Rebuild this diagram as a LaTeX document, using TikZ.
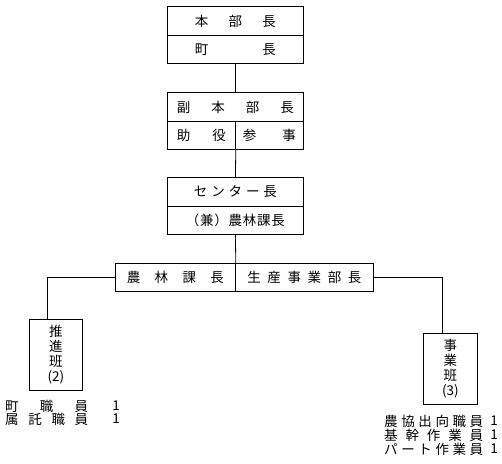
\documentclass[tikz,border=0pt]{standalone}
\usepackage{fontspec}
\setmainfont{Noto Sans CJK JP}
\newcommand{\spread}[2]{\makebox[#1pt][s]{#2}}

\begin{document}
\begin{tikzpicture}[x=1pt,y=-1pt,
	box/.style={draw,line width=0.8pt,inner sep=0pt,anchor=north west,align=center,font=\fontsize{13.5}{15}\selectfont},
	txt/.style={inner sep=0pt,font=\fontsize{13.5}{14}\selectfont},
	link/.style={line width=0.8pt}]
	\useasboundingbox (0,0) rectangle (502,463);

	\node[box,minimum width=136pt,minimum height=29pt] (honbuA) at (167,6) {\spread{81}{本\hfill 部\hfill 長}};
	\node[box,minimum width=136pt,minimum height=28pt] (honbuB) at (167,35) {\spread{81}{町\hfill 長}};

	\node[box,minimum width=136pt,minimum height=29pt] (fukuA) at (167,92) {\spread{117}{副\hfill 本\hfill 部\hfill 長}};
	\node[box,minimum width=68pt,minimum height=28pt] (fukuL) at (167,121) {\spread{49}{助\hfill 役}};
	\node[box,minimum width=68pt,minimum height=28pt] (fukuR) at (235,121) {\spread{53}{参\hfill 事}};

	\node[box,minimum width=136pt,minimum height=29pt] (centerA) at (167,177) {\spread{83}{セ\hfill ン\hfill タ\hfill ー\hfill 長}};
	\node[box,minimum width=136pt,minimum height=28pt] (centerB) at (167,206) {\spread{99}{（\hfill 兼\hfill ）\hfill 農\hfill 林\hfill 課\hfill 長}};

	\node[box,minimum width=120pt,minimum height=28pt] (noulin) at (115,263) {\spread{97}{農\hfill 林\hfill 課\hfill 長}};
	\node[box,minimum width=138pt,minimum height=28pt] (seisan) at (235,263) {\spread{114}{生\hfill 産\hfill 事\hfill 業\hfill 部\hfill 長}};

	\node[box,minimum width=53pt,minimum height=71pt] (suishin) at (29,319) {推\\進\\班\\(2)};
	\node[box,minimum width=54pt,minimum height=71pt] (jigyo) at (423,333) {事\\業\\班\\(3)};

	\draw[link] (honbuB.south) -- (fukuA.north);
	\draw[link] (fukuL.south east) -- (centerA.north);
	\draw[link] (centerB.south) -- (noulin.north east);
	\draw[link] (noulin.west) -| ([xshift=18pt]suishin.north west);
	\draw[link] (seisan.east) -| ([xshift=19pt]jigyo.north west);

	% members
	\node[txt,anchor=west] (chosyoku) at (5,406) {\spread{83}{町\hfill 職\hfill 員}};
	\node[txt] (chosyokuN) at (116,406) {1};
	\node[txt,anchor=west] (shokutaku) at (5,419) {\spread{83}{属\hfill 託\hfill 職\hfill 員}};
	\node[txt] (shokutakuN) at (116,419) {1};

	\node[txt,anchor=west] (nokyo) at (384,421) {\spread{99}{農\hfill 協\hfill 出\hfill 向\hfill 職\hfill 員}};
	\node[txt] (nokyoN) at (494,421) {1};
	\node[txt,anchor=west] (kikan) at (384,435) {\spread{99}{基\hfill 幹\hfill 作\hfill 業\hfill 員}};
	\node[txt] (kikanN) at (494,435) {1};
	\node[txt,anchor=west] (part) at (384,449) {\spread{99}{パ\hfill ー\hfill ト\hfill 作\hfill 業\hfill 員}};
	\node[txt] (partN) at (494,449) {1};
\end{tikzpicture}
\end{document}
